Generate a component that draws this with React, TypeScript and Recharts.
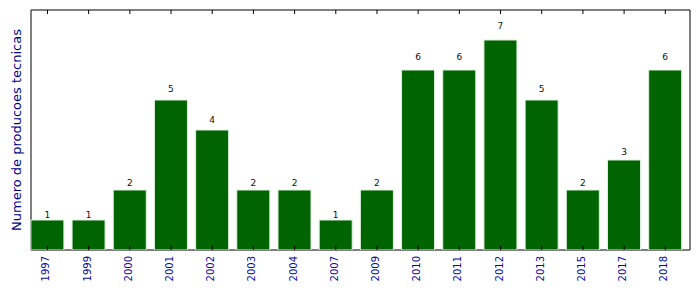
import { BarChart, Bar, XAxis, YAxis, LabelList, ReferenceArea, ReferenceLine } from "recharts";

const years = ["1997", "1999", "2000", "2001", "2002", "2003", "2004", "2007", "2009", "2010", "2011", "2012", "2013", "2015", "2017", "2018"];
const counts = [1, 1, 2, 5, 4, 2, 2, 1, 2, 6, 6, 7, 5, 2, 3, 6];
const yMax = 8;

// matplotlib-style: bars of width 0.8 starting at integer positions, ticks at the bar centres
const data = years.map((year, i) => ({ x: i + 0.4, year, v: counts[i] }));
const tickPositions = data.map((d) => d.x);

const FONT = "DejaVu Sans, sans-serif";
const W = 699;
const H = 292;
const TOP = 10;
const XAXIS_H = 42;
const BOTTOM = H - XAXIS_H;
// inward tick length of 4px, in y units
const TICK_LEN = (4 / (BOTTOM - TOP)) * yMax;

function YearTick(props: any) {
  const { x, payload } = props;
  const idx = tickPositions.indexOf(payload.value);
  const label = idx >= 0 ? years[idx] : "";
  return (
    <text
      transform={`translate(${x - 1.5},${BOTTOM + 6}) rotate(-90)`}
      textAnchor="end"
      dominantBaseline="central"
      fontSize={10}
      fontFamily={FONT}
      fill="#0a0aa0"
    >
      {label}
    </text>
  );
}

function ValueLabel(props: any) {
  const { x, y, width, height, value } = props;
  return (
    <text
      x={x + width / 2}
      y={y - 0.05 * height - 1}
      textAnchor="middle"
      fontSize={9}
      fontFamily={FONT}
      fill="#111"
    >
      {value}
    </text>
  );
}

function YTitle() {
  const cx = 16;
  const cy = (TOP + BOTTOM) / 2;
  return (
    <text
      transform={`translate(${cx},${cy}) rotate(-90)`}
      textAnchor="middle"
      dominantBaseline="central"
      fontSize={13}
      fontFamily={FONT}
      fill="#00008b"
    >
      Numero de producoes tecnicas
    </text>
  );
}

export default function App() {
  return (
    <div style={{ position: "absolute", left: 0, top: 0, background: "#fff" }}>
      <BarChart
        width={W}
        height={H}
        data={data}
        margin={{ top: TOP, right: 9, bottom: 0, left: 0 }}
      >
        <XAxis
          type="number"
          dataKey="x"
          domain={[0, 16]}
          ticks={tickPositions}
          interval={0}
          axisLine={false}
          tickLine={false}
          tickSize={0}
          tickMargin={0}
          tick={<YearTick />}
          height={XAXIS_H}
        />
        <YAxis
          domain={[0, yMax]}
          allowDataOverflow
          width={31}
          tick={false}
          tickLine={false}
          axisLine={false}
          label={<YTitle />}
        />
        <Bar
          dataKey="v"
          barSize={33}
          fill="#006400"
          stroke="#dcefdc"
          strokeWidth={1}
          isAnimationActive={false}
        >
          <LabelList dataKey="v" content={<ValueLabel />} />
        </Bar>
        {tickPositions.map((t) => (
          <ReferenceLine
            key={`b${t}`}
            segment={[{ x: t, y: 0 }, { x: t, y: TICK_LEN }]}
            stroke="#000"
            strokeWidth={1}
          />
        ))}
        {tickPositions.map((t) => (
          <ReferenceLine
            key={`t${t}`}
            segment={[{ x: t, y: yMax }, { x: t, y: yMax - TICK_LEN }]}
            stroke="#000"
            strokeWidth={1}
          />
        ))}
        <ReferenceArea
          x1={0}
          x2={16}
          y1={0}
          y2={yMax}
          fill="none"
          stroke="#000"
          strokeWidth={1}
          fillOpacity={0}
        />
      </BarChart>
    </div>
  );
}
